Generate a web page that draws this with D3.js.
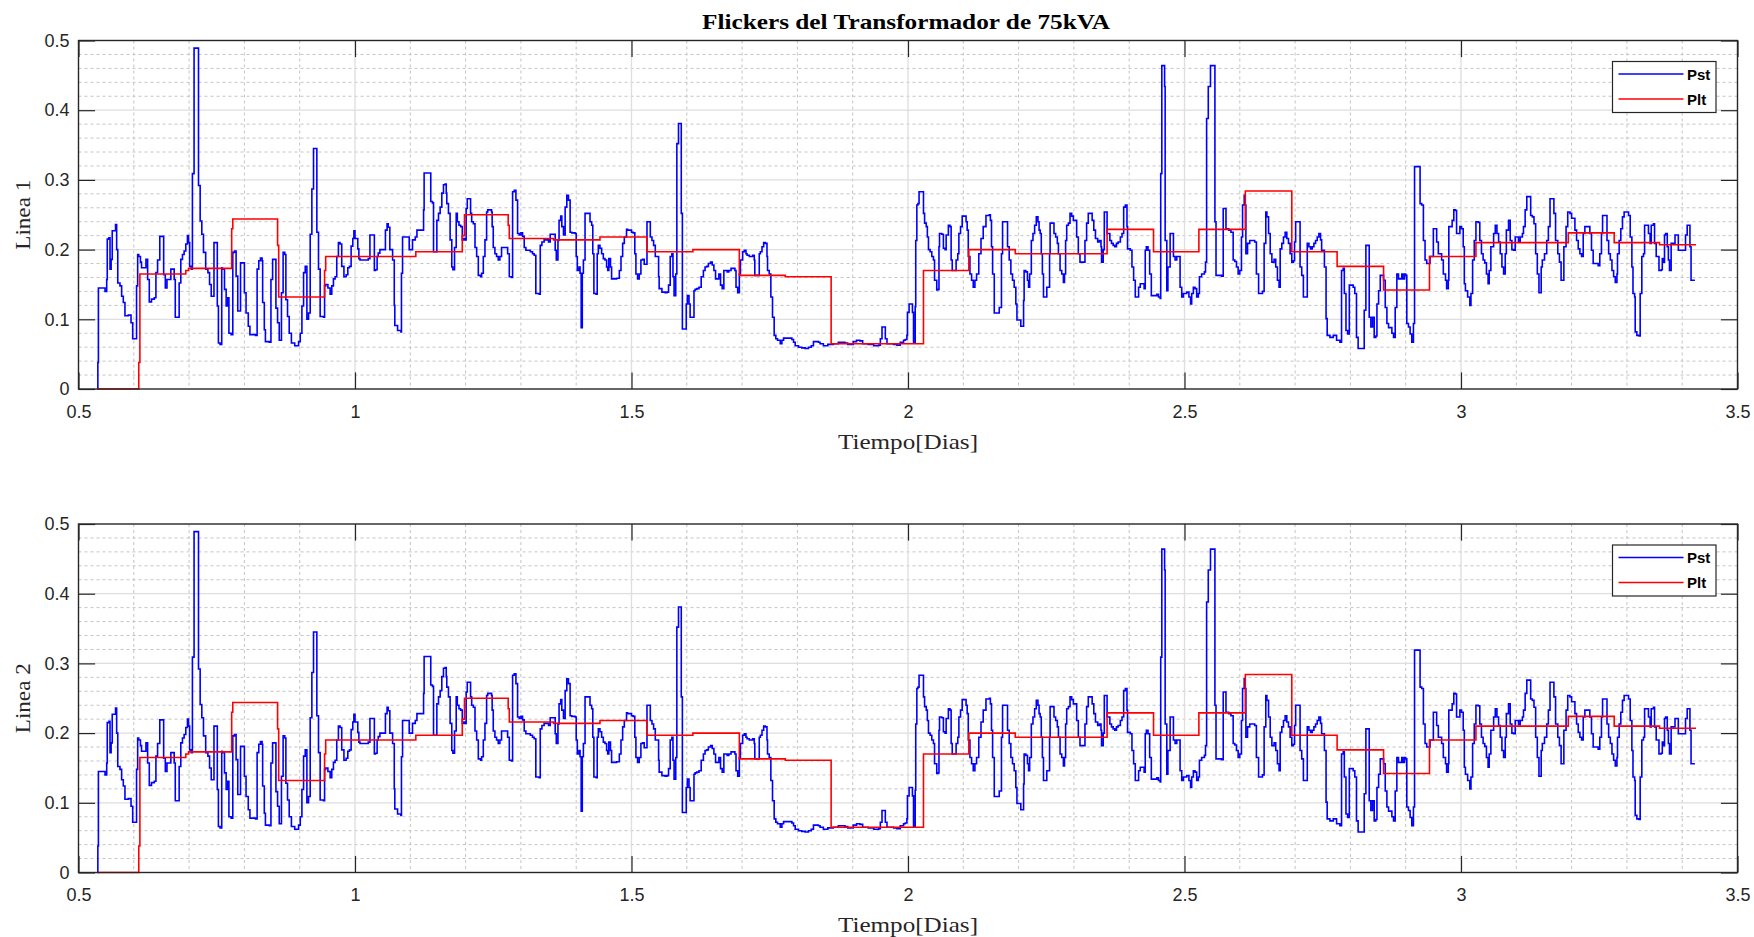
<!DOCTYPE html>
<html>
<head>
<meta charset="utf-8">
<script src="https://cdn.jsdelivr.net/npm/d3@7"></script>
<style>
  body { margin: 0; background: #fff; }
  svg { display: block; }
  .tick text { font-family: "Liberation Sans", Arial, sans-serif; font-size: 18px; fill: #262626; }
  .tick line { stroke: #262626; stroke-width: 1.2; }
  .grid-major { stroke: #dedede; stroke-width: 1.3; }
  .grid-minor { stroke: #c4c4c4; stroke-width: 1; stroke-dasharray: 3,3; }
</style>
</head>
<body>
<div id="chart"></div>
<script>
// tick values and labels
const xTickValues = [0.5, 1, 1.5, 2, 2.5, 3, 3.5];
const yTickValues = [0, 0.1, 0.2, 0.3, 0.4, 0.5];
const titleText = "Flickers del Transformador de 75kVA";
const xLabelText = "Tiempo[Dias]";
const seriesNames = ["Pst", "Plt"];

// Pst (short term flicker), [dia, valor]
const pstLinea1 = [
  [0.534,0],[0.535,0.038],[0.536,0.145],[0.545,0.145],[0.548,0.14],[0.551,0.157],[0.552,0.215],[0.555,0.217],[0.557,0.172],[0.559,0.186],[0.561,0.227],[0.565,0.227],[0.567,0.236],[0.569,0.2],[0.571,0.152],[0.575,0.148],[0.578,0.133],[0.581,0.124],[0.584,0.105],[0.590,0.106],[0.595,0.095],[0.598,0.072],[0.602,0.072],[0.605,0.148],[0.607,0.193],[0.609,0.19],[0.612,0.182],[0.614,0.174],[0.619,0.174],[0.622,0.186],[0.625,0.157],[0.628,0.125],[0.632,0.129],[0.637,0.131],[0.640,0.167],[0.643,0.185],[0.647,0.219],[0.652,0.219],[0.654,0.164],[0.657,0.145],[0.660,0.157],[0.664,0.157],[0.667,0.172],[0.670,0.172],[0.673,0.157],[0.675,0.103],[0.679,0.103],[0.682,0.152],[0.685,0.186],[0.688,0.193],[0.691,0.198],[0.694,0.208],[0.697,0.22],[0.699,0.21],[0.701,0.176],[0.704,0.172],[0.706,0.309],[0.709,0.489],[0.714,0.489],[0.717,0.292],[0.720,0.241],[0.723,0.222],[0.726,0.196],[0.730,0.172],[0.734,0.167],[0.737,0.15],[0.740,0.133],[0.743,0.133],[0.745,0.21],[0.747,0.21],[0.751,0.119],[0.753,0.066],[0.756,0.064],[0.759,0.174],[0.760,0.172],[0.764,0.143],[0.767,0.119],[0.770,0.131],[0.772,0.08],[0.776,0.078],[0.779,0.196],[0.782,0.198],[0.785,0.162],[0.788,0.112],[0.791,0.112],[0.793,0.181],[0.797,0.181],[0.800,0.138],[0.803,0.109],[0.807,0.09],[0.810,0.078],[0.820,0.077],[0.823,0.172],[0.826,0.184],[0.829,0.188],[0.832,0.184],[0.833,0.124],[0.836,0.085],[0.838,0.068],[0.845,0.067],[0.848,0.157],[0.851,0.186],[0.855,0.186],[0.857,0.116],[0.860,0.095],[0.863,0.07],[0.867,0.138],[0.870,0.196],[0.873,0.193],[0.875,0.128],[0.878,0.104],[0.881,0.08],[0.885,0.066],[0.891,0.062],[0.895,0.062],[0.898,0.068],[0.901,0.08],[0.904,0.119],[0.907,0.167],[0.910,0.176],[0.913,0.1],[0.916,0.109],[0.919,0.222],[0.922,0.287],[0.925,0.345],[0.930,0.345],[0.931,0.225],[0.934,0.172],[0.937,0.104],[0.943,0.103],[0.945,0.148],[0.947,0.15],[0.951,0.145],[0.955,0.136],[0.958,0.148],[0.961,0.158],[0.964,0.161],[0.967,0.19],[0.970,0.21],[0.973,0.208],[0.976,0.176],[0.980,0.161],[0.984,0.164],[0.987,0.174],[0.990,0.176],[0.993,0.205],[0.996,0.216],[0.998,0.227],
  [1.000,0.216],[1.005,0.201],[1.007,0.187],[1.009,0.185],[1.024,0.187],[1.027,0.221],[1.031,0.221],[1.035,0.17],[1.037,0.171],[1.040,0.19],[1.042,0.195],[1.045,0.2],[1.051,0.2],[1.055,0.228],[1.058,0.237],[1.060,0.232],[1.063,0.2],[1.068,0.185],[1.071,0.12],[1.072,0.091],[1.077,0.084],[1.083,0.082],[1.084,0.166],[1.086,0.218],[1.095,0.218],[1.098,0.2],[1.101,0.2],[1.104,0.214],[1.109,0.218],[1.112,0.228],[1.121,0.228],[1.124,0.257],[1.125,0.31],[1.134,0.31],[1.137,0.269],[1.140,0.267],[1.142,0.197],[1.146,0.197],[1.148,0.242],[1.151,0.252],[1.154,0.261],[1.157,0.281],[1.160,0.293],[1.163,0.294],[1.165,0.281],[1.166,0.266],[1.169,0.252],[1.172,0.214],[1.175,0.175],[1.177,0.171],[1.180,0.203],[1.183,0.252],[1.185,0.24],[1.188,0.235],[1.191,0.233],[1.194,0.214],[1.197,0.216],[1.199,0.214],[1.201,0.259],[1.203,0.273],[1.207,0.273],[1.209,0.252],[1.211,0.24],[1.214,0.237],[1.217,0.203],[1.220,0.19],[1.223,0.163],[1.227,0.161],[1.229,0.166],[1.232,0.19],[1.235,0.214],[1.238,0.254],[1.240,0.257],[1.247,0.254],[1.248,0.233],[1.250,0.203],[1.253,0.194],[1.256,0.19],[1.259,0.185],[1.262,0.19],[1.265,0.203],[1.273,0.203],[1.276,0.194],[1.279,0.161],[1.283,0.16],[1.285,0.283],[1.288,0.285],[1.291,0.271],[1.294,0.223],[1.297,0.221],[1.300,0.224],[1.303,0.219],[1.306,0.203],[1.309,0.199],[1.317,0.197],[1.321,0.194],[1.324,0.192],[1.327,0.137],[1.333,0.136],[1.335,0.206],[1.338,0.211],[1.342,0.214],[1.350,0.211],[1.353,0.222],[1.359,0.222],[1.362,0.199],[1.364,0.185],[1.367,0.213],[1.369,0.242],[1.372,0.248],[1.374,0.233],[1.377,0.221],[1.380,0.261],[1.383,0.278],[1.386,0.271],[1.389,0.225],[1.392,0.224],[1.398,0.223],[1.400,0.19],[1.402,0.17],[1.405,0.175],[1.407,0.166],[1.409,0.088],[1.411,0.166],[1.413,0.185],[1.416,0.252],[1.422,0.252],[1.425,0.24],[1.428,0.235],[1.430,0.194],[1.432,0.137],[1.436,0.136],[1.438,0.194],[1.440,0.206],[1.443,0.202],[1.446,0.194],[1.449,0.187],[1.452,0.185],[1.455,0.175],[1.457,0.17],[1.459,0.187],[1.462,0.175],[1.464,0.158],[1.473,0.159],[1.478,0.17],[1.481,0.19],[1.484,0.209],[1.487,0.218],[1.491,0.229],
  [1.493,0.228],[1.500,0.225],[1.503,0.224],[1.506,0.194],[1.508,0.165],[1.511,0.158],[1.514,0.165],[1.517,0.185],[1.520,0.186],[1.523,0.179],[1.526,0.179],[1.528,0.24],[1.531,0.24],[1.534,0.218],[1.537,0.213],[1.540,0.206],[1.543,0.19],[1.547,0.19],[1.549,0.161],[1.550,0.144],[1.555,0.139],[1.561,0.138],[1.564,0.139],[1.567,0.149],[1.570,0.19],[1.573,0.194],[1.575,0.161],[1.577,0.134],[1.580,0.165],[1.582,0.352],[1.585,0.381],[1.588,0.381],[1.590,0.252],[1.592,0.086],[1.597,0.086],[1.599,0.122],[1.601,0.134],[1.604,0.122],[1.606,0.103],[1.610,0.103],[1.613,0.141],[1.615,0.143],[1.618,0.144],[1.622,0.146],[1.626,0.161],[1.630,0.17],[1.633,0.175],[1.636,0.176],[1.639,0.18],[1.643,0.182],[1.646,0.178],[1.649,0.17],[1.652,0.158],[1.655,0.158],[1.658,0.165],[1.661,0.149],[1.664,0.144],[1.667,0.17],[1.673,0.168],[1.676,0.17],[1.680,0.173],[1.687,0.17],[1.689,0.146],[1.692,0.138],[1.695,0.165],[1.697,0.185],[1.701,0.197],[1.704,0.199],[1.707,0.194],[1.709,0.192],[1.713,0.19],[1.719,0.192],[1.722,0.185],[1.723,0.163],[1.728,0.163],[1.731,0.194],[1.733,0.197],[1.736,0.204],[1.739,0.21],[1.742,0.209],[1.745,0.19],[1.746,0.17],[1.749,0.165],[1.752,0.132],[1.755,0.103],[1.758,0.077],[1.761,0.072],[1.764,0.07],[1.769,0.065],[1.772,0.07],[1.775,0.073],[1.790,0.071],[1.793,0.067],[1.796,0.062],[1.802,0.06],[1.808,0.059],[1.814,0.058],[1.820,0.06],[1.825,0.062],[1.829,0.068],[1.838,0.067],[1.841,0.065],[1.847,0.062],[1.855,0.064],[1.865,0.065],[1.874,0.067],[1.886,0.066],[1.891,0.064],[1.897,0.064],[1.901,0.068],[1.907,0.07],[1.913,0.069],[1.918,0.065],[1.928,0.064],[1.938,0.062],[1.947,0.063],[1.950,0.072],[1.953,0.089],[1.956,0.089],[1.959,0.072],[1.962,0.065],[1.974,0.064],[1.980,0.063],[1.986,0.067],[1.992,0.07],[1.995,0.071],
  [1.998,0.077],[1.999,0.11],[2.002,0.122],[2.008,0.11],[2.010,0.066],[2.011,0.066],[2.013,0.118],[2.014,0.213],[2.016,0.264],[2.018,0.266],[2.020,0.283],[2.025,0.283],[2.028,0.252],[2.030,0.238],[2.033,0.233],[2.035,0.218],[2.037,0.2],[2.040,0.197],[2.043,0.19],[2.046,0.185],[2.048,0.156],[2.052,0.142],[2.054,0.143],[2.056,0.204],[2.057,0.223],[2.061,0.222],[2.064,0.202],[2.067,0.2],[2.069,0.221],[2.073,0.235],[2.076,0.233],[2.078,0.185],[2.080,0.17],[2.085,0.17],[2.087,0.185],[2.090,0.194],[2.092,0.223],[2.095,0.233],[2.098,0.248],[2.103,0.248],[2.105,0.24],[2.107,0.228],[2.109,0.19],[2.112,0.165],[2.115,0.156],[2.118,0.146],[2.121,0.156],[2.124,0.165],[2.128,0.194],[2.132,0.216],[2.136,0.233],[2.141,0.249],[2.147,0.25],[2.149,0.242],[2.151,0.204],[2.153,0.165],[2.156,0.109],[2.160,0.109],[2.165,0.117],[2.168,0.117],[2.169,0.194],[2.171,0.24],[2.177,0.24],[2.180,0.204],[2.183,0.185],[2.186,0.165],[2.189,0.156],[2.192,0.146],[2.195,0.122],[2.197,0.099],[2.203,0.099],[2.204,0.09],[2.207,0.09],[2.209,0.127],[2.210,0.17],[2.213,0.168],[2.216,0.156],[2.218,0.146],[2.220,0.165],[2.223,0.213],[2.226,0.223],[2.229,0.235],[2.232,0.247],[2.235,0.24],[2.237,0.228],[2.239,0.223],[2.241,0.194],[2.243,0.165],[2.245,0.132],[2.249,0.132],[2.251,0.146],[2.254,0.146],[2.256,0.194],[2.257,0.238],[2.261,0.238],[2.264,0.223],[2.267,0.218],[2.270,0.209],[2.272,0.194],[2.275,0.17],[2.278,0.165],[2.281,0.153],[2.283,0.165],[2.285,0.213],[2.287,0.235],[2.290,0.238],[2.293,0.252],[2.296,0.248],[2.299,0.242],[2.302,0.242],[2.305,0.218],[2.308,0.194],[2.311,0.182],[2.317,0.182],[2.320,0.213],[2.323,0.238],[2.326,0.252],[2.331,0.252],[2.333,0.242],[2.336,0.228],[2.339,0.216],[2.343,0.211],[2.346,0.213],[2.349,0.204],[2.350,0.182],[2.353,0.2],[2.355,0.254],[2.358,0.254],[2.360,0.223],[2.365,0.213],[2.368,0.209],[2.371,0.206],[2.374,0.204],[2.377,0.209],[2.380,0.211],[2.384,0.218],[2.387,0.223],[2.390,0.261],[2.393,0.264],[2.396,0.233],[2.397,0.201],[2.402,0.199],[2.405,0.175],[2.408,0.156],[2.411,0.132],[2.414,0.132],[2.417,0.146],[2.420,0.151],[2.424,0.151],[2.427,0.144],[2.429,0.199],[2.431,0.204],[2.434,0.199],[2.437,0.165],[2.440,0.134],[2.447,0.134],[2.450,0.136],[2.453,0.132],[2.456,0.13],[2.457,0.309],[2.459,0.464],[2.462,0.464],[2.464,0.434],[2.465,0.213],
  [2.468,0.141],[2.470,0.175],[2.474,0.223],[2.478,0.223],[2.480,0.19],[2.483,0.185],[2.486,0.19],[2.492,0.146],[2.495,0.132],[2.498,0.137],[2.504,0.139],[2.508,0.132],[2.511,0.122],[2.513,0.137],[2.516,0.146],[2.519,0.144],[2.522,0.132],[2.525,0.137],[2.527,0.161],[2.531,0.165],[2.536,0.168],[2.538,0.182],[2.540,0.388],[2.543,0.434],[2.547,0.464],[2.554,0.464],[2.555,0.24],[2.557,0.163],[2.567,0.162],[2.570,0.259],[2.575,0.23],[2.580,0.228],[2.584,0.225],[2.588,0.185],[2.591,0.183],[2.594,0.175],[2.597,0.165],[2.600,0.17],[2.603,0.218],[2.605,0.264],[2.608,0.278],[2.609,0.264],[2.611,0.194],[2.614,0.209],[2.618,0.213],[2.627,0.211],[2.630,0.165],[2.634,0.137],[2.641,0.14],[2.644,0.209],[2.647,0.254],[2.649,0.247],[2.652,0.223],[2.655,0.194],[2.658,0.182],[2.662,0.186],[2.665,0.175],[2.668,0.156],[2.671,0.146],[2.673,0.201],[2.676,0.209],[2.679,0.218],[2.682,0.225],[2.685,0.216],[2.688,0.209],[2.691,0.194],[2.694,0.182],[2.697,0.184],[2.699,0.211],[2.701,0.24],[2.706,0.24],[2.709,0.175],[2.712,0.163],[2.715,0.132],[2.719,0.132],[2.722,0.209],[2.725,0.204],[2.728,0.201],[2.731,0.204],[2.734,0.209],[2.737,0.213],[2.740,0.218],[2.743,0.223],[2.746,0.214],[2.748,0.199],[2.753,0.175],[2.756,0.101],[2.758,0.077],[2.763,0.074],[2.769,0.077],[2.775,0.07],[2.781,0.067],[2.784,0.17],[2.787,0.173],[2.789,0.137],[2.792,0.084],[2.795,0.079],[2.798,0.149],[2.805,0.146],[2.808,0.137],[2.811,0.074],[2.814,0.058],[2.823,0.058],[2.825,0.113],[2.828,0.206],[2.831,0.206],[2.834,0.103],[2.837,0.089],[2.840,0.103],[2.843,0.074],[2.846,0.076],[2.848,0.122],[2.851,0.141],[2.854,0.163],[2.857,0.163],[2.860,0.156],[2.863,0.117],[2.866,0.094],[2.869,0.088],[2.875,0.08],[2.878,0.074],[2.881,0.117],[2.884,0.165],[2.887,0.158],[2.893,0.165],[2.895,0.158],[2.898,0.165],[2.900,0.163],[2.902,0.094],[2.905,0.089],[2.908,0.079],[2.911,0.067],[2.914,0.094],[2.916,0.319],[2.923,0.319],[2.926,0.266],[2.929,0.264],[2.932,0.213],[2.935,0.185],[2.938,0.18],[2.944,0.19],[2.947,0.19],[2.950,0.23],[2.953,0.23],[2.956,0.211],[2.959,0.194],[2.965,0.185],[2.968,0.165],
  [2.972,0.156],[2.974,0.144],[2.977,0.156],[2.978,0.233],[2.984,0.242],[2.987,0.257],[2.990,0.256],[2.992,0.223],[2.998,0.233],[3.001,0.23],[3.004,0.204],[3.006,0.151],[3.008,0.141],[3.012,0.132],[3.016,0.12],[3.018,0.137],[3.021,0.185],[3.024,0.213],[3.027,0.24],[3.031,0.239],[3.034,0.213],[3.037,0.194],[3.040,0.185],[3.043,0.181],[3.046,0.165],[3.049,0.151],[3.051,0.17],[3.054,0.204],[3.059,0.223],[3.062,0.235],[3.065,0.223],[3.068,0.211],[3.071,0.194],[3.074,0.175],[3.077,0.165],[3.080,0.194],[3.082,0.228],[3.086,0.242],[3.089,0.213],[3.092,0.2],[3.095,0.199],[3.098,0.218],[3.104,0.212],[3.107,0.218],[3.111,0.223],[3.113,0.233],[3.116,0.257],[3.119,0.276],[3.123,0.276],[3.126,0.249],[3.129,0.247],[3.132,0.237],[3.135,0.194],[3.138,0.165],[3.141,0.138],[3.145,0.175],[3.147,0.185],[3.151,0.194],[3.155,0.213],[3.158,0.233],[3.161,0.273],[3.165,0.273],[3.168,0.252],[3.171,0.213],[3.175,0.194],[3.178,0.182],[3.181,0.156],[3.184,0.156],[3.186,0.204],[3.190,0.233],[3.193,0.254],[3.197,0.252],[3.200,0.245],[3.203,0.245],[3.206,0.228],[3.209,0.213],[3.212,0.201],[3.215,0.194],[3.218,0.19],[3.221,0.223],[3.224,0.233],[3.230,0.233],[3.233,0.223],[3.236,0.199],[3.239,0.18],[3.248,0.177],[3.251,0.194],[3.254,0.223],[3.256,0.249],[3.261,0.249],[3.264,0.213],[3.267,0.194],[3.270,0.185],[3.273,0.17],[3.276,0.161],[3.279,0.153],[3.282,0.165],[3.283,0.194],[3.286,0.213],[3.289,0.23],[3.292,0.247],[3.295,0.254],[3.300,0.254],[3.303,0.249],[3.306,0.218],[3.309,0.175],[3.311,0.137],[3.314,0.132],[3.315,0.082],[3.318,0.077],[3.322,0.076],[3.324,0.137],[3.327,0.19],[3.330,0.194],[3.332,0.235],[3.336,0.235],[3.339,0.223],[3.342,0.209],[3.344,0.235],[3.348,0.237],[3.350,0.209],[3.353,0.19],[3.358,0.17],[3.362,0.171],[3.364,0.187],[3.366,0.182],[3.368,0.221],[3.370,0.223],[3.373,0.204],[3.375,0.185],[3.377,0.17],[3.380,0.209],[3.384,0.209],[3.387,0.221],[3.391,0.221],[3.393,0.199],[3.404,0.199],[3.406,0.221],[3.409,0.235],[3.412,0.235],[3.414,0.204],[3.416,0.156],[3.423,0.156]
];

// Plt (long term flicker), [dia, valor]
const pltLinea1 = [
  [0.534,0],[0.609,0.038],[0.611,0.165],[0.694,0.170],[0.699,0.173],[0.777,0.23],[0.779,0.244],
  [0.860,0.206],[0.862,0.132],[0.945,0.17],[0.947,0.19],[1.110,0.197],[1.194,0.22],[1.198,0.25],
  [1.277,0.235],[1.279,0.216],[1.359,0.214],[1.443,0.218],[1.528,0.197],[1.611,0.2],[1.695,0.163],
  [1.778,0.161],[1.861,0.065],[2.028,0.17],[2.110,0.2],[2.194,0.194],[2.360,0.229],[2.444,0.197],
  [2.526,0.229],[2.610,0.284],[2.694,0.197],[2.776,0.176],[2.860,0.142],[2.943,0.19],[3.027,0.21],
  [3.194,0.224],[3.277,0.21],[3.359,0.207],[3.425,0.207]
];

// Linea 2 registers the same values
const pstLinea2 = pstLinea1;
const pltLinea2 = pltLinea1;

const width = 1754, height = 937;
const svg = d3.select("#chart").append("svg")
    .attr("width", width)
    .attr("height", height)
    .style("background", "#fff");

const x = d3.scaleLinear().domain([0.5, 3.5]).range([78.5, 1737.5]);
const TICK = 16.6;

// minor grid positions
const xMinor = d3.range(6, 35).filter(d => d % 5 != 0).map(d => d / 10);
const yMinor = d3.range(1, 25).filter(d => d % 5 != 0).map(d => d / 50);

const panels = [
    {label: "Linea 1", pst: pstLinea1, plt: pltLinea1, top: 40.5, bottom: 389},
    {label: "Linea 2", pst: pstLinea2, plt: pltLinea2, top: 524, bottom: 872.5}
];

panels.forEach((p, i) => {
    let y = d3.scaleLinear().domain([0, 0.5]).range([p.bottom, p.top]);
    let g = svg.append("g").attr("class", "panel");
    let x0 = x.range()[0], x1 = x.range()[1];

    // grid
    g.selectAll("line.gxm").data(xMinor).enter().append("line")
        .attr("class", "grid-minor")
        .attr("x1", d => x(d)).attr("x2", d => x(d))
        .attr("y1", p.top).attr("y2", p.bottom);
    g.selectAll("line.gym").data(yMinor).enter().append("line")
        .attr("class", "grid-minor")
        .attr("x1", x0).attr("x2", x1)
        .attr("y1", d => y(d)).attr("y2", d => y(d));
    g.selectAll("line.gx").data(xTickValues.slice(1, -1)).enter().append("line")
        .attr("class", "grid-major")
        .attr("x1", d => x(d)).attr("x2", d => x(d))
        .attr("y1", p.top).attr("y2", p.bottom);
    g.selectAll("line.gy").data(yTickValues.slice(1, -1)).enter().append("line")
        .attr("class", "grid-major")
        .attr("x1", x0).attr("x2", x1)
        .attr("y1", d => y(d)).attr("y2", d => y(d));

    // series
    let line = d3.line()
        .x(d => x(d[0]))
        .y(d => y(d[1]))
        .curve(d3.curveStepAfter);

    g.append("path").datum(p.pst)
        .attr("d", line)
        .attr("fill", "none")
        .attr("stroke", "#0000ff")
        .attr("stroke-width", 1.6);
    g.append("path").datum(p.plt)
        .attr("d", line)
        .attr("fill", "none")
        .attr("stroke", "#ff0000")
        .attr("stroke-width", 1.6);

    // axes, ticks pointing inwards
    g.append("g").attr("transform", "translate(0," + p.bottom + ")")
        .call(d3.axisBottom(x).tickValues(xTickValues).tickFormat(d => String(d))
            .tickSizeInner(-TICK).tickSizeOuter(0).tickPadding(16))
        .call(a => a.select(".domain").remove());
    g.append("g").attr("transform", "translate(0," + p.top + ")")
        .call(d3.axisTop(x).tickValues(xTickValues).tickFormat("")
            .tickSizeInner(-TICK).tickSizeOuter(0))
        .call(a => a.select(".domain").remove());
    g.append("g").attr("transform", "translate(" + x0 + ",0)")
        .call(d3.axisLeft(y).tickValues(yTickValues).tickFormat(d => String(d))
            .tickSizeInner(-TICK).tickSizeOuter(0).tickPadding(9))
        .call(a => a.select(".domain").remove());
    g.append("g").attr("transform", "translate(" + x1 + ",0)")
        .call(d3.axisRight(y).tickValues(yTickValues).tickFormat("")
            .tickSizeInner(-TICK).tickSizeOuter(0))
        .call(a => a.select(".domain").remove());

    // box
    g.append("rect")
        .attr("x", x0).attr("y", p.top)
        .attr("width", x1 - x0).attr("height", p.bottom - p.top)
        .attr("fill", "none")
        .attr("stroke", "#262626")
        .attr("stroke-width", 1.4);

    // y label
    g.append("text")
        .attr("transform", "translate(30," + (p.top + p.bottom) / 2 + ") rotate(-90)")
        .attr("text-anchor", "middle")
        .attr("textLength", 70)
        .attr("lengthAdjust", "spacingAndGlyphs")
        .style("font-family", "'Liberation Serif', 'Times New Roman', serif")
        .style("font-size", "21px")
        .style("fill", "#262626")
        .text(p.label);

    // x label
    g.append("text")
        .attr("x", (x0 + x1) / 2)
        .attr("y", p.bottom + 59.5)
        .attr("text-anchor", "middle")
        .attr("textLength", 140)
        .attr("lengthAdjust", "spacingAndGlyphs")
        .style("font-family", "'Liberation Serif', 'Times New Roman', serif")
        .style("font-size", "21px")
        .style("fill", "#262626")
        .text(xLabelText);

    // legend
    let lg = g.append("g").attr("transform", "translate(" + (x1 - 125) + "," + (p.top + 21) + ")");
    lg.append("rect")
        .attr("width", 103.5).attr("height", 51)
        .attr("fill", "#fff")
        .attr("stroke", "#262626")
        .attr("stroke-width", 1.2);
    let colors = ["#0000ff", "#ff0000"];
    seriesNames.forEach((name, k) => {
        lg.append("line")
            .attr("x1", 6).attr("x2", 71)
            .attr("y1", 12.5 + k * 25).attr("y2", 12.5 + k * 25)
            .attr("stroke", colors[k])
            .attr("stroke-width", 1.6);
        lg.append("text")
            .attr("x", 74.5)
            .attr("y", 18 + k * 25)
            .style("font-family", "'Liberation Sans', Arial, sans-serif")
            .style("font-weight", "bold")
            .style("font-size", "15px")
            .style("fill", "#000")
            .text(name);
    });
});

// title
svg.append("text")
    .attr("x", 906)
    .attr("y", 29)
    .attr("text-anchor", "middle")
    .attr("textLength", 408)
    .attr("lengthAdjust", "spacingAndGlyphs")
    .style("font-family", "'Liberation Serif', 'Times New Roman', serif")
    .style("font-weight", "bold")
    .style("font-size", "21px")
    .style("fill", "#000")
    .text(titleText);
</script>
</body>
</html>
